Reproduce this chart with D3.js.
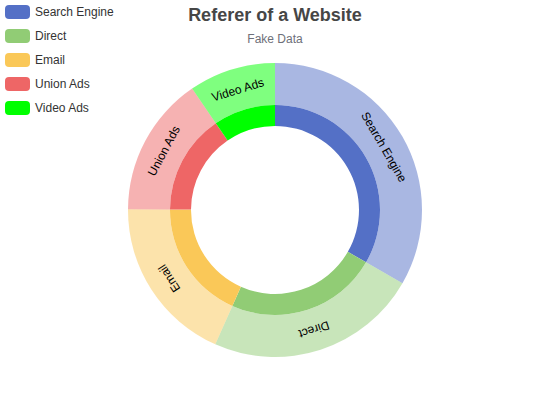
<!DOCTYPE html>
<html>
<head>
<meta charset="utf-8">
<script src="https://cdn.jsdelivr.net/npm/d3@7/dist/d3.min.js"></script>
<style>
  body { margin: 0; background: #fff; }
  svg { font-family: "Liberation Sans", Arial, sans-serif; }
</style>
</head>
<body>
<svg id="chart" width="550" height="420"></svg>
<script>
// chart values
var categories = ["Search Engine", "Direct", "Email", "Union Ads", "Video Ads"];
var values = [1048, 735, 580, 484, 300];
var colors = ["#5470c6", "#91cc75", "#fac858", "#ee6666", "#00ff00"];

var width = 550, height = 420;
var svg = d3.select("#chart");
var minSide = Math.min(width, height);
var cx = width / 2, cy = height / 2;

// title
svg.append("text")
   .attr("x", cx)
   .attr("y", 21)
   .attr("text-anchor", "middle")
   .attr("font-size", 18)
   .attr("font-weight", "bold")
   .attr("fill", "#464646")
   .text("Referer of a Website");

svg.append("text")
   .attr("x", cx)
   .attr("y", 43)
   .attr("text-anchor", "middle")
   .attr("font-size", 12)
   .attr("fill", "#6e7079")
   .text("Fake Data");

var color = d3.scaleOrdinal().domain(categories).range(colors);

var pie = d3.pie().sort(null).value(function(d, i) { return values[i]; });
var arcsData = pie(categories);

var g = svg.append("g").attr("transform", "translate(" + cx + "," + cy + ")");

// inner ring (full colour)
var innerArc = d3.arc().innerRadius(minSide * 0.2).outerRadius(minSide * 0.25);
g.selectAll("path.inner")
 .data(arcsData)
 .enter().append("path")
 .attr("class", "inner")
 .attr("d", innerArc)
 .attr("fill", function(d) { return color(d.data); });

// outer ring (faded)
var outerArc = d3.arc().innerRadius(minSide * 0.25).outerRadius(minSide * 0.35);
g.selectAll("path.outer")
 .data(arcsData)
 .enter().append("path")
 .attr("class", "outer")
 .attr("d", outerArc)
 .attr("fill", function(d) { return color(d.data); })
 .attr("fill-opacity", 0.5);

// tangential labels inside the outer ring
g.selectAll("text.label")
 .data(arcsData)
 .enter().append("text")
 .attr("class", "label")
 .attr("transform", function(d) {
   var c = outerArc.centroid(d);
   var ang = (d.startAngle + d.endAngle) / 2 * 180 / Math.PI;
   return "translate(" + c[0] + "," + c[1] + ") rotate(" + ang + ")";
 })
 .attr("text-anchor", "middle")
 .attr("dy", "0.35em")
 .attr("font-size", 12)
 .attr("fill", "#000")
 .text(function(d) { return d.data; });

// legend
var legend = svg.selectAll("g.legend")
  .data(categories)
  .enter().append("g")
  .attr("class", "legend")
  .attr("transform", function(d, i) { return "translate(5," + (5 + i * 24) + ")"; });

legend.append("rect")
  .attr("width", 25)
  .attr("height", 14)
  .attr("rx", 4)
  .attr("fill", function(d) { return color(d); });

legend.append("text")
  .attr("x", 30)
  .attr("y", 7)
  .attr("dy", "0.35em")
  .attr("font-size", 12)
  .attr("fill", "#333")
  .text(function(d) { return d; });
</script>
</body>
</html>
